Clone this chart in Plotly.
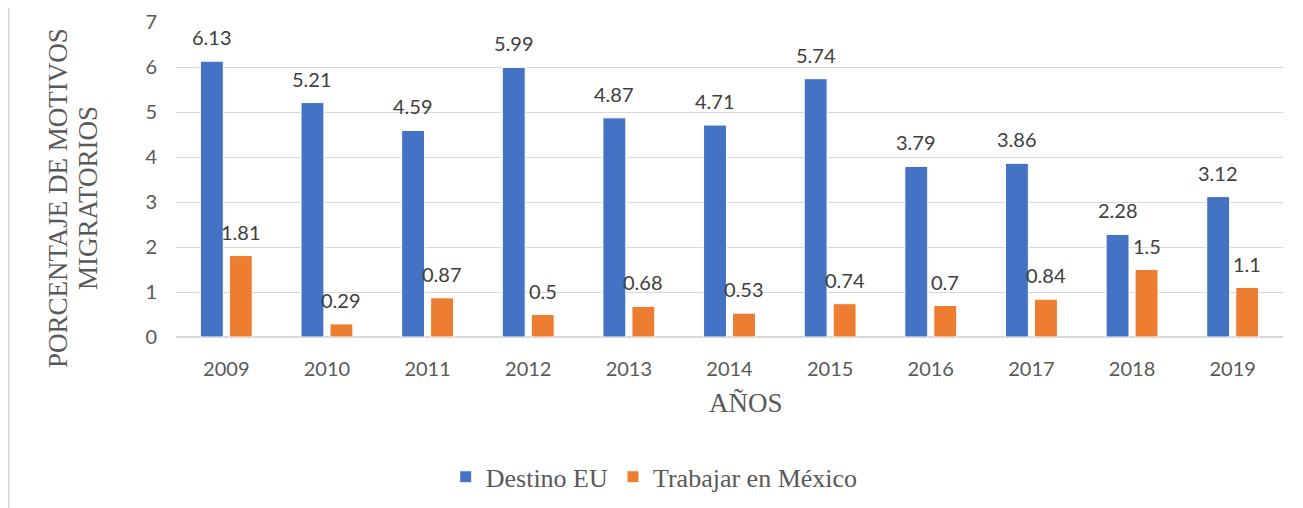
import plotly.graph_objects as go

years = ["2009", "2010", "2011", "2012", "2013", "2014", "2015", "2016", "2017", "2018", "2019"]
destino_eu = [6.13, 5.21, 4.59, 5.99, 4.87, 4.71, 5.74, 3.79, 3.86, 2.28, 3.12]
trabajar_mexico = [1.81, 0.29, 0.87, 0.5, 0.68, 0.53, 0.74, 0.7, 0.84, 1.5, 1.1]
y_ticks = [0, 1, 2, 3, 4, 5, 6, 7]

BLUE = "#4472C4"
ORANGE = "#ED7D31"
LABEL_FONT = dict(family="Lato, Noto Sans, sans-serif", size=20, color="#404040")
TICK_FONT = dict(family="Lato, Noto Sans, sans-serif", size=20, color="#595959")
SERIF = dict(family="Liberation Serif, Times New Roman, serif", size=26, color="#595959")
SERIF_T = dict(family="Liberation Serif, Times New Roman, serif", size=27, color="#595959")

fig = go.Figure()
fig.add_trace(go.Bar(name="Destino EU", x=years, y=destino_eu,
                     marker=dict(color=BLUE, line=dict(color="white", width=1))))
fig.add_trace(go.Bar(name="Trabajar en México", x=years, y=trabajar_mexico,
                     marker=dict(color=ORANGE, line=dict(color="white", width=1))))

annotations = []
for series, shift in ((destino_eu, -14.5), (trabajar_mexico, 14.5)):
    for idx, v in enumerate(series):
        annotations.append(dict(x=idx, y=v, xref="x", yref="y", text=f"{v:g}",
                                showarrow=False, xshift=shift, yshift=24,
                                yanchor="middle", xanchor="center", font=LABEL_FONT))

# axis titles
annotations.append(dict(x=0.515, y=-0.2095, xref="paper", yref="paper", text="AÑOS",
                        showarrow=False, xanchor="center", yanchor="middle", font=SERIF_T))
annotations.append(dict(x=-0.1066, y=0.441, xref="paper", yref="paper",
                        text="PORCENTAJE DE MOTIVOS", textangle=-90,
                        showarrow=False, xanchor="center", yanchor="middle", font=SERIF_T))
annotations.append(dict(x=-0.0795, y=0.441, xref="paper", yref="paper",
                        text="MIGRATORIOS", textangle=-90,
                        showarrow=False, xanchor="center", yanchor="middle", font=SERIF_T))

fig.update_layout(
    width=1295, height=500,
    margin=dict(l=168, r=20, t=14, b=171, autoexpand=False),
    paper_bgcolor="white", plot_bgcolor="white",
    barmode="group", bargap=0.424, bargroupgap=0.21,
    showlegend=True,
    legend=dict(orientation="h", x=0.432, y=-0.444, xanchor="center", yanchor="middle",
                font=SERIF, itemwidth=30, traceorder="normal"),
    annotations=annotations,
    shapes=[dict(type="line", xref="paper", yref="paper", x0=-0.1511, x1=-0.1511,
                 y0=-0.6, y1=1.1, line=dict(color="#D9D9D9", width=1.5))],
    xaxis=dict(type="category", tickfont=TICK_FONT, showgrid=False, showline=False,
               ticks="", ticklabelstandoff=18, range=[-0.5, len(years) - 0.5]),
    yaxis=dict(range=[0, 7], tickvals=y_ticks, tickfont=TICK_FONT, showgrid=True,
               gridcolor="#D9D9D9", gridwidth=1, zeroline=True, zerolinecolor="#D9D9D9",
               zerolinewidth=1.5, showline=False, ticks="", ticklabelstandoff=18),
)

fig.write_html("out.html")
